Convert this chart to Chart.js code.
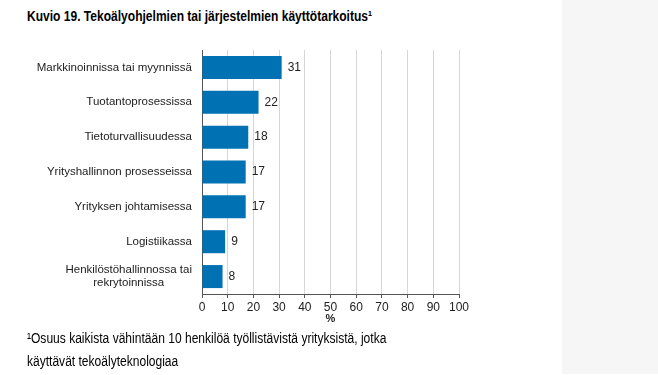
<!DOCTYPE html>
<html>
<head>
<meta charset="utf-8">
<script src="https://cdn.jsdelivr.net/npm/chart.js@4"></script>
<style>
  html, body { margin: 0; padding: 0; background: #fff; }
  body { width: 658px; height: 375px; position: relative; overflow: hidden; font-family: "Liberation Sans", Arial, sans-serif; }
  #side { position: absolute; left: 562px; top: 0; width: 96px; height: 374px; background: #f6f6f6; }
  #otsikko { position: absolute; left: 27px; top: 8px; font-size: 14px; font-weight: bold; color: #000; white-space: nowrap; transform: scaleX(0.86); transform-origin: left top; }
  #alaviite { position: absolute; left: 27px; top: 327px; font-size: 14px; line-height: 23px; color: #000; white-space: nowrap; transform: scaleX(0.86); transform-origin: left top; }
  #wrap { position: absolute; left: 0; top: 44px; width: 520px; height: 290px; }
</style>
</head>
<body>
<div id="side"></div>
<div id="otsikko">Kuvio 19. Tekoälyohjelmien tai järjestelmien käyttötarkoitus¹</div>
<div id="wrap"><canvas id="kuvio"></canvas></div>
<div id="alaviite">¹Osuus kaikista vähintään 10 henkilöä työllistävistä yrityksistä, jotka<br>käyttävät tekoälyteknologiaa</div>
<script>
// Tiedot
const kategoriat = [
    'Markkinoinnissa tai myynnissä',
    'Tuotantoprosessissa',
    'Tietoturvallisuudessa',
    'Yrityshallinnon prosesseissa',
    'Yrityksen johtamisessa',
    'Logistiikassa',
    ['Henkilöstöhallinnossa tai', 'rekrytoinnissa']
];
const osuudet = [31, 22, 18, 17, 17, 9, 8];
const akseliTicks = [0, 10, 20, 30, 40, 50, 60, 70, 80, 90, 100];

const sininen = '#0071b3';
const fontti = '"Liberation Sans", Arial, sans-serif';

// Arvot palkkien perään ja kategoriat vasemmalle
const tekstit = {
    id: 'tekstit',
    afterDatasetsDraw(chart) {
        const ctx = chart.ctx;
        const meta = chart.getDatasetMeta(0);
        const yScale = chart.scales.y;
        ctx.save();
        ctx.fillStyle = '#222';
        ctx.textBaseline = 'middle';
        ctx.font = '12px ' + fontti;
        ctx.textAlign = 'left';
        meta.data.forEach((bar, i) => {
            ctx.fillText(String(osuudet[i]), bar.x + 6, bar.y);
        });
        ctx.font = '11.5px ' + fontti;
        const oikea = chart.chartArea.left - 10;
        kategoriat.forEach((lab, i) => {
            const y = yScale.getPixelForValue(i);
            const rivit = Array.isArray(lab) ? lab : [lab];
            const leveys = Math.max(...rivit.map(r => ctx.measureText(r).width));
            const keski = oikea - leveys / 2;
            const rivikork = 12.5;
            rivit.forEach((r, j) => {
                ctx.textAlign = 'center';
                ctx.fillText(r, keski, y + (j - (rivit.length - 1) / 2) * rivikork);
            });
        });
        ctx.restore();
    }
};

new Chart(document.getElementById('kuvio'), {
    type: 'bar',
    data: {
        labels: kategoriat,
        datasets: [{
            data: osuudet,
            backgroundColor: sininen,
            barPercentage: 0.66,
            categoryPercentage: 1
        }]
    },
    options: {
        indexAxis: 'y',
        responsive: true,
        maintainAspectRatio: false,
        animation: false,
        layout: { padding: { top: 6, right: 61, left: 0, bottom: 0 } },
        plugins: {
            legend: { display: false },
            tooltip: { enabled: false }
        },
        scales: {
            x: {
                min: 0,
                max: 100,
                afterBuildTicks(scale) {
                    scale.ticks = akseliTicks.map(v => ({ value: v }));
                },
                afterFit(scale) { scale.height = 40; },
                grid: { color: '#d6d6d6', tickLength: 4, tickColor: '#555' },
                border: { color: '#555', width: 1 },
                ticks: { color: '#222', font: { family: fontti, size: 12 }, padding: 2, maxRotation: 0, minRotation: 0, autoSkip: false },
                title: { display: true, text: '%', color: '#222', font: { family: fontti, size: 11, weight: 'bold' }, padding: { top: 0, bottom: 8 } }
            },
            y: {
                afterFit(scale) { scale.width = 202; },
                grid: { display: false },
                border: { color: '#555', width: 1 },
                ticks: { display: false }
            }
        }
    },
    plugins: [tekstit]
});
</script>
</body>
</html>
